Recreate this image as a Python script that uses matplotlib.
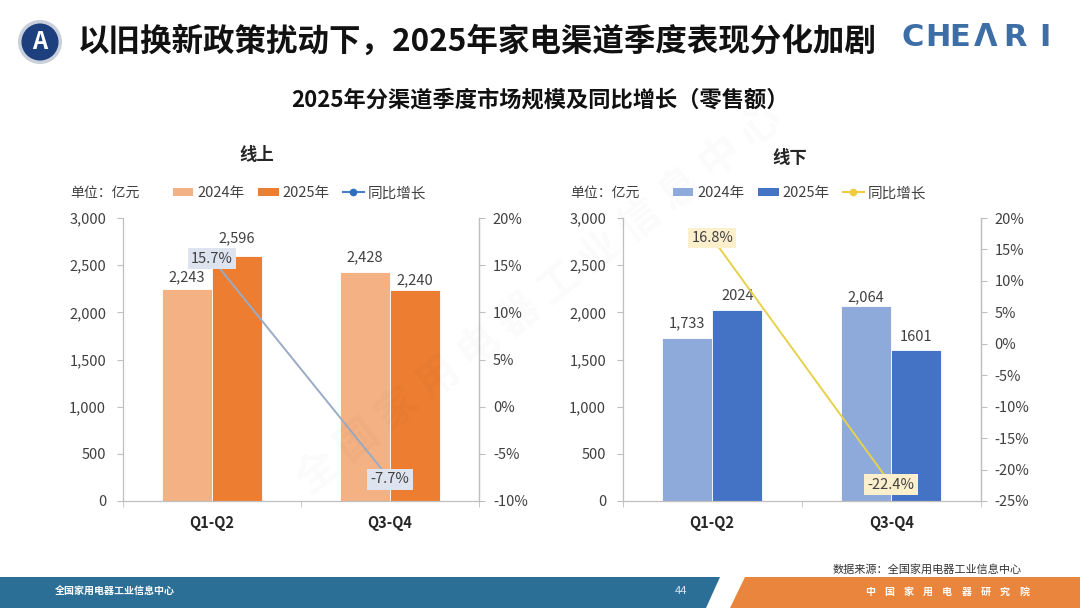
import matplotlib
matplotlib.use("Agg")
import matplotlib.pyplot as plt
from matplotlib.patches import Polygon, Patch
from matplotlib.lines import Line2D
from matplotlib.ticker import FuncFormatter, MultipleLocator, FixedLocator
import numpy as np

plt.rcParams['font.family'] = ['Noto Sans CJK SC', 'DejaVu Sans']

# ---------------- data ----------------
categories = ["Q1-Q2", "Q3-Q4"]
online_2024 = [2243, 2428]
online_2025 = [2596, 2240]
online_growth = [15.7, -7.7]
online_2024_labels = ["2,243", "2,428"]
online_2025_labels = ["2,596", "2,240"]

offline_2024 = [1733, 2064]
offline_2025 = [2024, 1601]
offline_growth = [16.8, -22.4]
offline_2024_labels = ["1,733", "2,064"]
offline_2025_labels = ["2024", "1601"]

legend_labels = ["2024年", "2025年", "同比增长"]
title = "以旧换新政策扰动下，2025年家电渠道季度表现分化加剧"
subtitle = "2025年分渠道季度市场规模及同比增长（零售额）"
source = "数据来源：全国家用电器工业信息中心"

W, H = 1080, 608
fig = plt.figure(figsize=(W / 100, H / 100), dpi=100)
fig.patch.set_facecolor("white")


def fx(x):
    return x / W


def fy(y):
    return 1 - y / H


TXT = "#404040"
SP = "#bfbfbf"


def draw_panel(rect, v24, v25, l24, l25, growth, c24, c25, lcolor, boxcolor,
               yr2, ptitle, ptitle_xy, leg_x, leg_line_color, leg_marker_color,
               off24, off25):
    ax = fig.add_axes(rect)
    x = np.arange(len(categories))
    bw = 0.28
    ax.bar(x - bw / 2, v24, width=bw, color=c24, edgecolor="white", linewidth=0.6, zorder=2)
    ax.bar(x + bw / 2, v25, width=bw, color=c25, edgecolor="white", linewidth=0.6, zorder=2)
    for xi, v, s, o in zip(x - bw / 2, v24, l24, off24):
        ax.annotate(s, (xi, v), xytext=(0, o * 0.72), textcoords="offset points",
                    ha="center", va="center", fontsize=10.5, color=TXT)
    for xi, v, s, o in zip(x + bw / 2, v25, l25, off25):
        ax.annotate(s, (xi, v), xytext=(0, o * 0.72), textcoords="offset points",
                    ha="center", va="center", fontsize=10.5, color=TXT)
    ax.set_xlim(-0.5, 1.5)
    ax.set_ylim(0, 3000)
    ax.yaxis.set_major_locator(MultipleLocator(500))
    ax.yaxis.set_major_formatter(FuncFormatter(lambda v, p: f"{int(v):,}"))
    ax.set_xticks(x)
    ax.set_xticklabels(categories, fontsize=10.5, fontweight="bold", color="#262626")
    ax.xaxis.set_minor_locator(FixedLocator([-0.5, 0.5, 1.5]))
    ax.tick_params(axis="x", which="major", length=0, pad=10)
    ax.tick_params(axis="x", which="minor", length=4, color=SP)
    ax.tick_params(axis="y", length=4, color=SP, labelsize=10.5, labelcolor=TXT, pad=8)
    ax.spines["top"].set_visible(False)
    for s in ["left", "bottom", "right"]:
        ax.spines[s].set_color(SP)
        ax.spines[s].set_linewidth(0.9)

    ax2 = ax.twinx()
    ax2.set_ylim(*yr2)
    ax2.yaxis.set_major_locator(MultipleLocator(5))
    ax2.yaxis.set_major_formatter(FuncFormatter(lambda v, p: f"{int(round(v))}%"))
    ax2.tick_params(axis="y", length=4, color=SP, labelsize=10.5, labelcolor=TXT, pad=6)
    for s in ["top", "left", "bottom"]:
        ax2.spines[s].set_visible(False)
    ax2.spines["right"].set_color(SP)
    ax2.spines["right"].set_linewidth(0.9)
    ax2.plot(x, growth, color=lcolor, lw=1.4, marker="o", ms=4, zorder=3)
    for xi, g in zip(x, growth):
        ax2.text(xi, g, f"{g:.1f}%", ha="center", va="center", fontsize=10.5, color=TXT,
                 zorder=5, bbox=dict(boxstyle="square,pad=0.22", fc=boxcolor, ec="none"))

    fig.text(fx(ptitle_xy[0]), fy(ptitle_xy[1]), ptitle, ha="center", va="center",
             fontsize=12.5, fontweight="bold", color="#262626")
    fig.text(fx(leg_x - 103), fy(193), "单位：亿元", ha="left", va="center",
             fontsize=10, color=TXT)
    handles = [Patch(facecolor=c24, edgecolor="none"),
               Patch(facecolor=c25, edgecolor="none"),
               Line2D([0], [0], color=leg_line_color, lw=1.5, marker="o", ms=4.5,
                      markerfacecolor=leg_marker_color, markeredgecolor=leg_marker_color)]
    fig.legend(handles, legend_labels, loc="center left",
               bbox_to_anchor=(fx(leg_x), fy(193)), ncol=3, frameon=False,
               fontsize=10.5, handlelength=1.4, handleheight=0.5, handletextpad=0.25,
               columnspacing=0.95, borderpad=0, borderaxespad=0, labelcolor=TXT)
    return ax, ax2


draw_panel([fx(122.7), fy(501), fx(479 - 122.7), (501 - 218) / H],
           online_2024, online_2025, online_2024_labels, online_2025_labels, online_growth,
           "#f4b183", "#ed7d31", "#9aabc5", "#dde4ef", (-10, 20), "线上", (257, 155),
           173, "#4a7fc8", "#2e6fbf", [12, 15], [18, 9])

draw_panel([fx(622.7), fy(501), fx(980.7 - 622.7), (501 - 218) / H],
           offline_2024, offline_2025, offline_2024_labels, offline_2025_labels, offline_growth,
           "#8eaadb", "#4472c4", "#e6d24a", "#fcefcc", (-25, 20), "线下", (790, 158),
           673, "#f0cc3c", "#f0cc3c", [14, 9], [14, 13])

# ---------------- header ----------------
fig.text(fx(40), fy(42), "A", ha="center", va="center", fontsize=17, fontweight="bold",
         color="white",
         bbox=dict(boxstyle="circle,pad=0.35", fc="#1d3f7e", ec="#c9cfdb", lw=2.5))
fig.text(fx(78), fy(42), title, ha="left", va="center", fontsize=22.7,
         fontweight="bold", color="#111111")
fig.text(fx(540), fy(100), subtitle, ha="center", va="center", fontsize=16,
         fontweight="bold", color="#111111")

logo_letters = ["C", "H", "E", "Λ", "R", "I"]
logo_x = [913, 938, 960, 986, 1015, 1045]
for ch, lx in zip(logo_letters, logo_x):
    fig.text(fx(lx), fy(37), ch, ha="center", va="center", fontsize=22,
             fontweight="bold", color="#3d6ea6", family="DejaVu Sans")

# faint watermark
fig.text(fx(540), fy(300), "全 国 家 用 电 器 工 业 信 息 中 心", ha="center", va="center",
         fontsize=30, color="#000000", alpha=0.018, rotation=38, fontweight="bold")

# ---------------- footer ----------------
blue = Polygon([(fx(0), fy(577)), (fx(720), fy(577)), (fx(706), fy(608)), (fx(0), fy(608))],
               closed=True, transform=fig.transFigure, facecolor="#2b6f97", edgecolor="none")
orange = Polygon([(fx(745), fy(577)), (fx(1080), fy(577)), (fx(1080), fy(608)), (fx(730), fy(608))],
                 closed=True, transform=fig.transFigure, facecolor="#e9853c", edgecolor="none")
fig.patches.extend([blue, orange])

fig.text(fx(1022), fy(569), source, ha="right", va="center", fontsize=8, color="#333333")
fig.text(fx(55), fy(592), "全国家用电器工业信息中心", ha="left", va="center",
         fontsize=7.2, fontweight="bold", color="white")
fig.text(fx(681), fy(591), "44", ha="center", va="center", fontsize=8, color="#d5e4ee")
footer_right = "中国家用电器研究院"
for i, ch in enumerate(footer_right):
    fig.text(fx(870 + i * 19.3), fy(592), ch, ha="center", va="center",
             fontsize=7.2, fontweight="bold", color="white")

fig.savefig("out.png", dpi=100, facecolor="white")
